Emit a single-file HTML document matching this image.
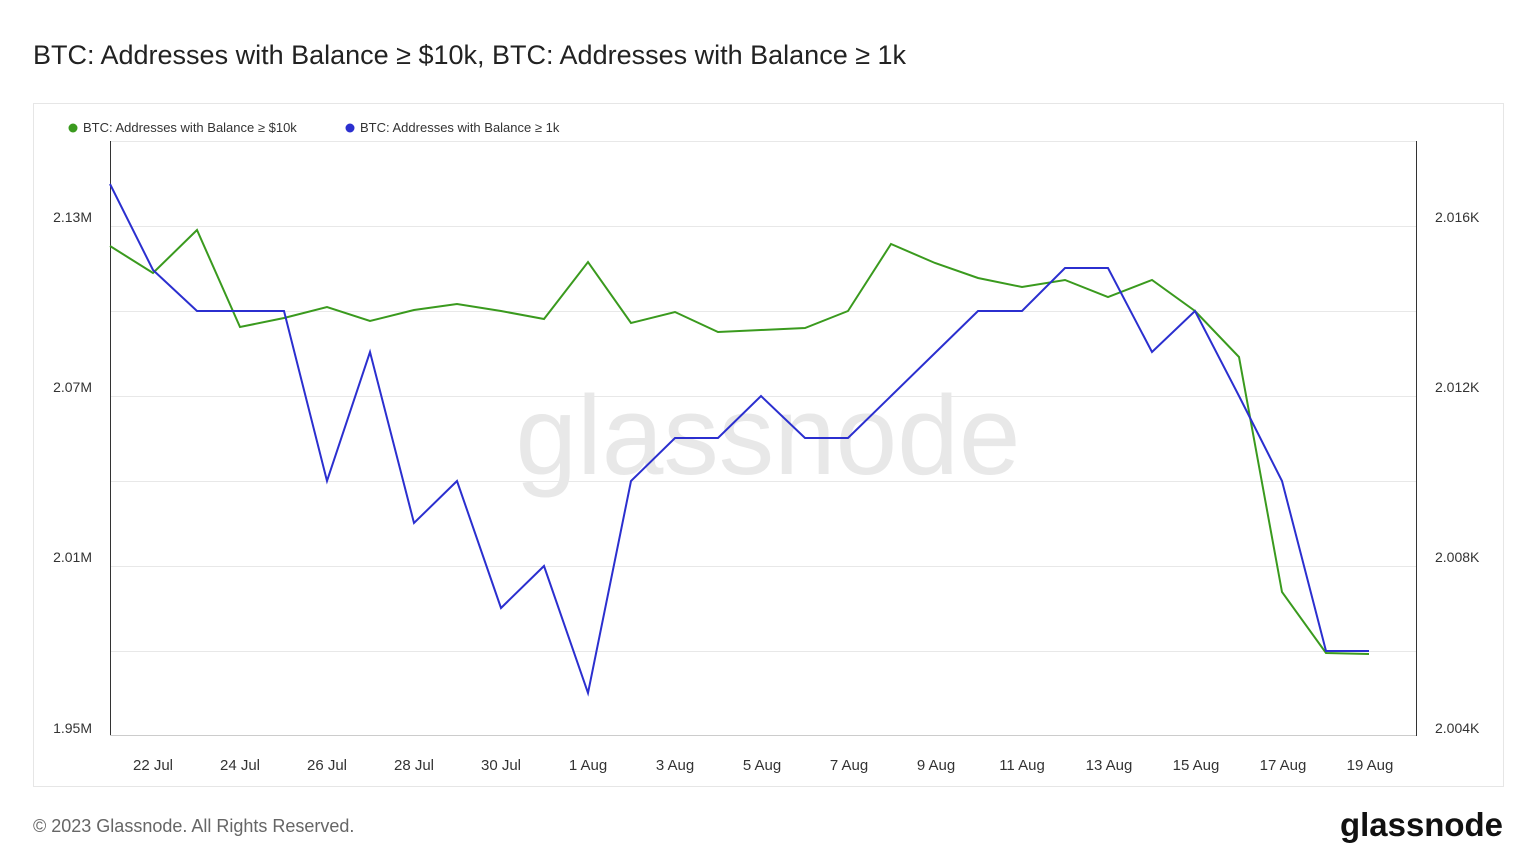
<!DOCTYPE html>
<html><head><meta charset="utf-8"><style>
html,body{margin:0;padding:0;background:#fff;width:1536px;height:864px;overflow:hidden;font-family:"Liberation Sans",sans-serif}
</style></head><body>
<svg width="1536" height="864" xmlns="http://www.w3.org/2000/svg" font-family="Liberation Sans, sans-serif">
<text x="33" y="64" font-size="27" fill="#222">BTC: Addresses with Balance ≥ $10k, BTC: Addresses with Balance ≥ 1k</text>
<rect x="33.5" y="103.5" width="1470" height="683" fill="#fff" stroke="#e6e6e6"/>
<circle cx="73" cy="128" r="4.5" fill="#3a9a1e"/>
<text x="83" y="132" font-size="13" fill="#333">BTC: Addresses with Balance ≥ $10k</text>
<circle cx="350" cy="128" r="4.5" fill="#2b2fcf"/>
<text x="360" y="132" font-size="13" fill="#333">BTC: Addresses with Balance ≥ 1k</text>
<g stroke="#e8e8e8" stroke-width="1">
<line x1="110" x2="1416" y1="141.5" y2="141.5"/>
<line x1="110" x2="1416" y1="226.5" y2="226.5"/>
<line x1="110" x2="1416" y1="311.5" y2="311.5"/>
<line x1="110" x2="1416" y1="396.5" y2="396.5"/>
<line x1="110" x2="1416" y1="481.5" y2="481.5"/>
<line x1="110" x2="1416" y1="566.5" y2="566.5"/>
<line x1="110" x2="1416" y1="651.5" y2="651.5"/>
</g>
<text x="768" y="474" font-size="112" fill="#e8e8e8" text-anchor="middle" textLength="505" lengthAdjust="spacingAndGlyphs">glassnode</text>
<line x1="110.5" x2="110.5" y1="141" y2="736" stroke="#333"/>
<line x1="1416.5" x2="1416.5" y1="141" y2="736" stroke="#333"/>
<line x1="110" x2="1416" y1="735.5" y2="735.5" stroke="#ccc"/>
<g font-size="14" fill="#333" text-anchor="end">
<text x="92" y="222">2.13M</text><text x="92" y="392">2.07M</text><text x="92" y="562">2.01M</text><text x="92" y="733">1.95M</text>
</g>
<g font-size="14" fill="#333">
<text x="1435" y="222">2.016K</text><text x="1435" y="392">2.012K</text><text x="1435" y="562">2.008K</text><text x="1435" y="733">2.004K</text>
</g>
<g font-size="15" fill="#333" text-anchor="middle">
<text x="153" y="770">22 Jul</text><text x="240" y="770">24 Jul</text><text x="327" y="770">26 Jul</text><text x="414" y="770">28 Jul</text><text x="501" y="770">30 Jul</text><text x="588" y="770">1 Aug</text><text x="675" y="770">3 Aug</text><text x="762" y="770">5 Aug</text><text x="849" y="770">7 Aug</text><text x="936" y="770">9 Aug</text><text x="1022" y="770">11 Aug</text><text x="1109" y="770">13 Aug</text><text x="1196" y="770">15 Aug</text><text x="1283" y="770">17 Aug</text><text x="1370" y="770">19 Aug</text>
</g>
<polyline fill="none" stroke="#3a9a1e" stroke-width="2" points="110,246 153,273 197,230 240,327 284,318 327,307 370,321 414,310 457,304 501,311 544,319 588,262 631,323 675,312 718,332 761,330 805,328 848,311 891,244 935,263 978,278 1022,287 1065,280 1108,297 1152,280 1195,311 1239,357 1282,592 1326,653 1369,654"/>
<polyline fill="none" stroke="#2b2fcf" stroke-width="2" points="110,184 153,270 197,311 240,311 284,311 327,481 370,352 414,523 457,481 501,608 544,566 588,693 631,481 675,438 718,438 761,396 805,438 848,438 891,396 935,353 978,311 1022,311 1065,268 1108,268 1152,352 1195,311 1239,396 1282,481 1326,651 1369,651"/>
<text x="33" y="832" font-size="18" fill="#666">© 2023 Glassnode. All Rights Reserved.</text>
<text x="1340" y="836" font-size="33" fill="#111" font-weight="600" textLength="163" lengthAdjust="spacingAndGlyphs">glassnode</text>
</svg>
</body></html>
